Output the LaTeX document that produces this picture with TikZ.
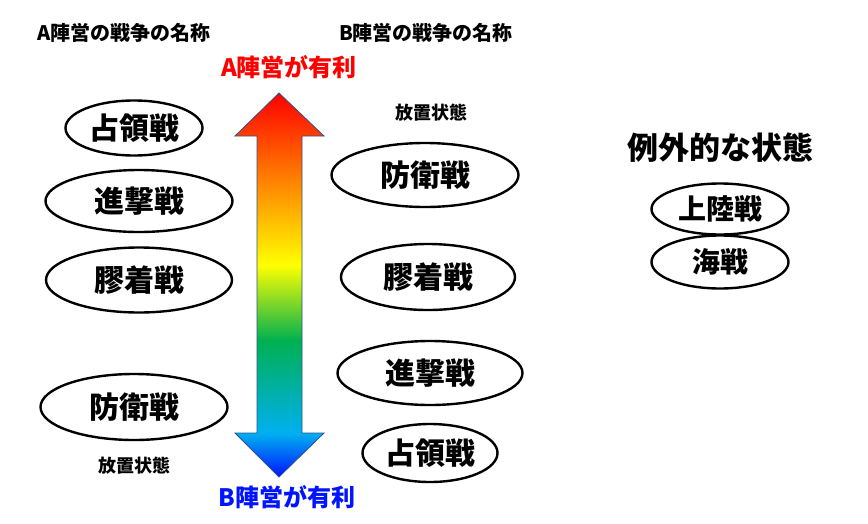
\documentclass[tikz,border=0pt]{standalone}
\usepackage{fontspec}
\setmainfont{Noto Sans CJK JP}
\usetikzlibrary{shapes.geometric}
\definecolor{arrowline}{RGB}{47,82,143}
\definecolor{skyblue}{RGB}{0,176,240}
\definecolor{officegreen}{RGB}{0,176,80}
\definecolor{campA}{RGB}{255,0,0}
\definecolor{campB}{RGB}{0,20,255}
\pgfdeclareverticalshading{rainbow}{100bp}{color(0bp)=(campB); color(25bp)=(campB);
  color(30.7bp)=(skyblue); color(42.8bp)=(officegreen); color(52.6bp)=(yellow);
  color(75bp)=(red); color(100bp)=(red)}

\begin{document}
\begin{tikzpicture}[x=1pt,y=-1pt,
    war/.style={draw,ellipse,line width=2.4pt,inner sep=0pt,
      font=\fontsize{30}{30}\selectfont\bfseries},
    note/.style={font=\fontsize{20}{20}\selectfont\bfseries}]
  \useasboundingbox (0,0) rectangle (868,523);
  % headings
  \node[note] (hA) at (124,33) {A陣営の戦争の名称};
  \node[note] (hB) at (426,33) {B陣営の戦争の名称};
  \node[font=\fontsize{24}{24}\selectfont\bfseries,text=campA] (top) at (289,67) {A陣営が有利};
  \node[font=\fontsize{24}{24}\selectfont\bfseries,text=campB] (bot) at (287,497) {B陣営が有利};
  % the scale arrow
  \shade[shading=rainbow,draw=arrowline,line width=0.8pt]
    (279,93) -- (324,136) -- (302,136) -- (302,433) -- (324,433) -- (279,477)
    -- (235,433) -- (257,433) -- (257,136) -- (235,136) -- cycle;
  % A side
  \node[war,minimum width=137pt,minimum height=55pt] (a1) at (134,128) {占領戦};
  \node[war,minimum width=187pt,minimum height=62pt] (a2) at (139,201) {進撃戦};
  \node[war,minimum width=186pt,minimum height=65pt] (a3) at (139,280) {膠着戦};
  \node[war,minimum width=187pt,minimum height=66pt] (a4) at (134,407) {防衛戦};
  \node[note,font=\fontsize{18}{18}\selectfont\bfseries] (a5) at (134,466) {放置状態};
  % B side
  \node[note,font=\fontsize{18}{18}\selectfont\bfseries] (b5) at (431,113) {放置状態};
  \node[war,minimum width=187pt,minimum height=64pt] (b4) at (425,175) {防衛戦};
  \node[war,minimum width=174pt,minimum height=66pt] (b3) at (428,277) {膠着戦};
  \node[war,minimum width=185pt,minimum height=64pt] (b2) at (430,373) {進撃戦};
  \node[war,minimum width=135pt,minimum height=58pt] (b1) at (430,453) {占領戦};
  % exceptions
  \node[font=\fontsize{31}{31}\selectfont\bfseries] (ex) at (720,148) {例外的な状態};
  \node[war,minimum width=137pt,minimum height=51pt,font=\fontsize{28}{28}\selectfont\bfseries] (e1) at (720,209) {上陸戦};
  \node[war,minimum width=137pt,minimum height=53pt,font=\fontsize{28}{28}\selectfont\bfseries] (e2) at (720,262) {海戦};
\end{tikzpicture}
\end{document}
